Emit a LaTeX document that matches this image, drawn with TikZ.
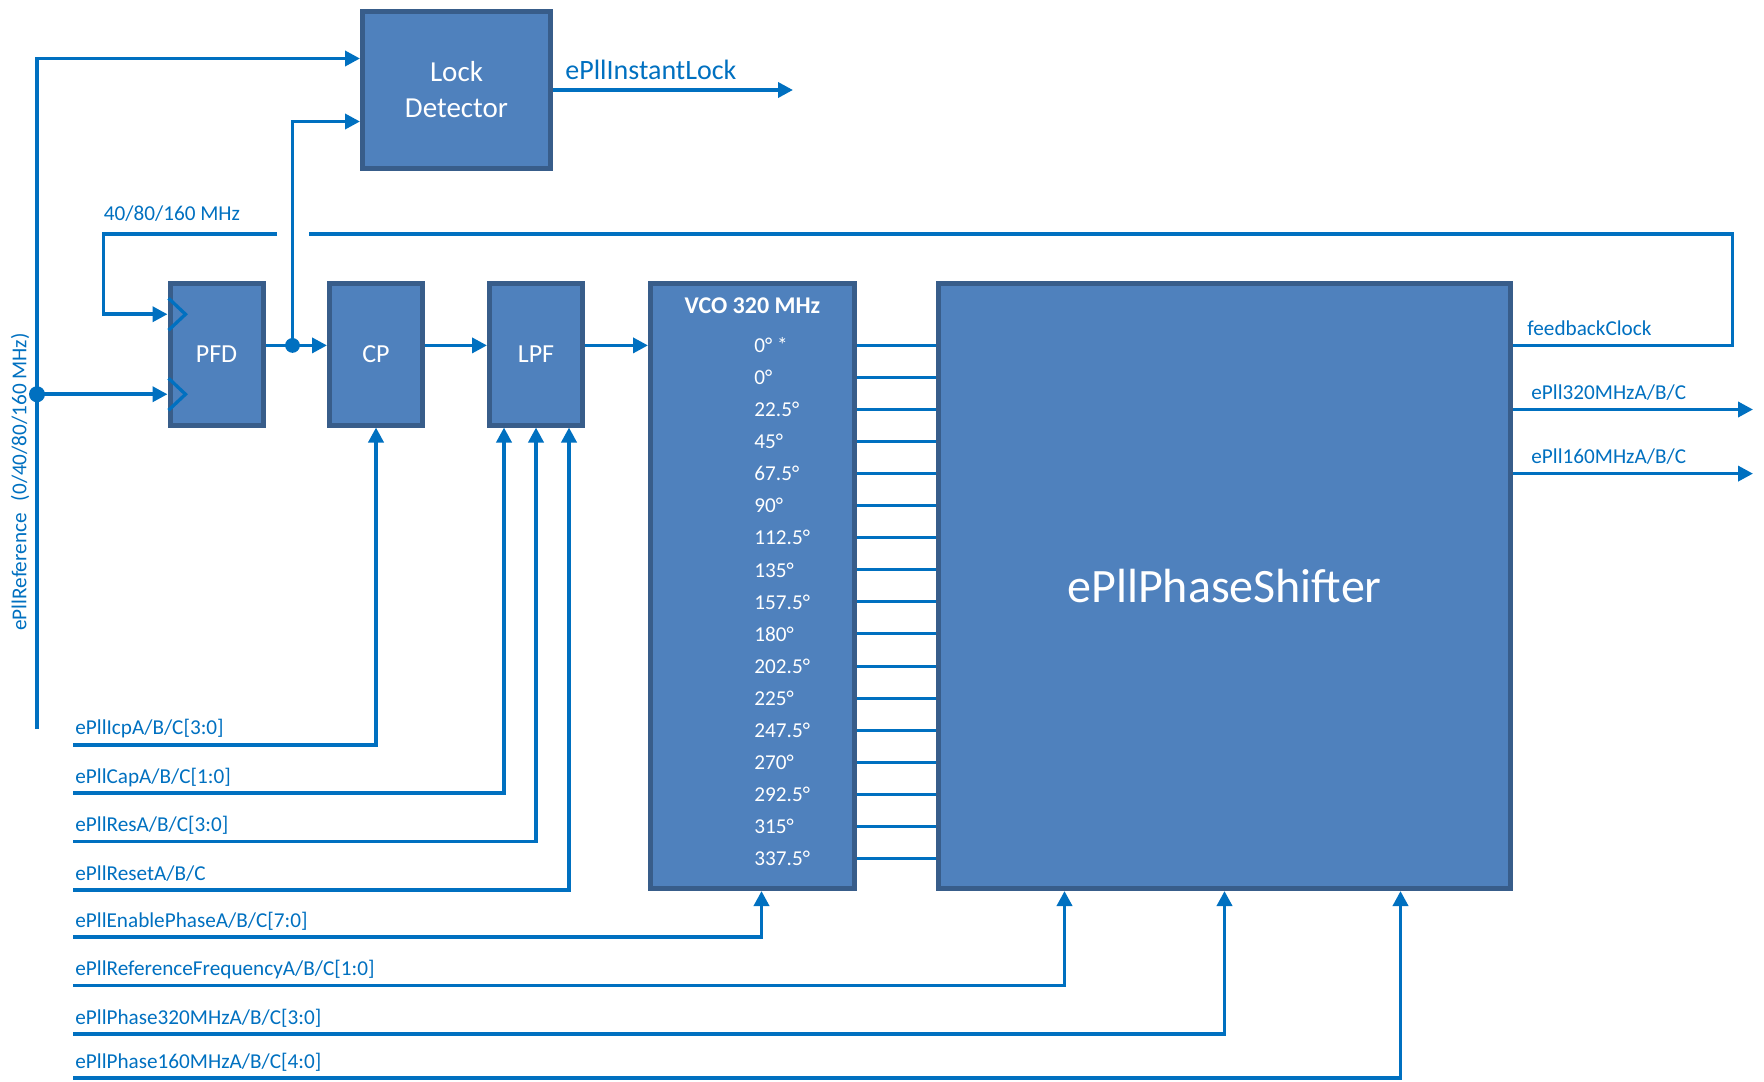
\documentclass[tikz,border=0pt]{standalone}
\usepackage{fontspec}
\setmainfont{Carlito}
\usepackage{tikz}
\usetikzlibrary{positioning}
\usetikzlibrary{calc}
\usetikzlibrary{arrows.meta}

\definecolor{wireblue}{HTML}{0070C0}
\definecolor{blockfill}{HTML}{4F81BD}
\definecolor{blockedge}{HTML}{385D8A}

\tikzset{
    block/.style={rectangle, fill=blockfill, draw=blockedge, line width=2.5pt,
        text=white, font=\fontsize{13}{15}\selectfont},
    smallblock/.style={block, minimum width=46.5pt, minimum height=70.75pt},
    bigblock/.style={block, minimum height=302.5pt},
    wire/.style={draw=wireblue, line width=1.8pt},
    sigarrow/.style={wire, -{Triangle[length=7.5pt,width=7.5pt]}},
    siglabel/.style={text=wireblue, inner sep=0pt, font=\fontsize{10.6}{12}\selectfont},
    phase/.style={text=white, inner sep=0pt, anchor=west, font=\fontsize{10.6}{12}\selectfont}
}

\begin{document}
\begin{tikzpicture}[x=0.5pt, y=-0.5pt]
    \useasboundingbox (0,0) rectangle (1764,1081);

    % pll chain
    \node[smallblock] (pfd) at (216.5,354.25) {PFD};
    \node[smallblock, right=30.75pt of pfd] (cp) {CP};
    \node[smallblock, right=31pt of cp] (lpf) {LPF};
    \node[bigblock, minimum width=102pt, right=31.5pt of lpf.north east, anchor=north west] (vco) {};
    \node[bigblock, minimum width=286pt, right=39.5pt of vco.north east, anchor=north west,
        font=\fontsize{24}{28}\selectfont] (ps) {ePllPhaseShifter};
    \node[block, minimum width=94pt, minimum height=78.5pt, align=center,
        font=\fontsize{14.5}{18}\selectfont] (ld) at (456.5,90) {Lock\\Detector};

    \node[text=white, font=\bfseries\fontsize{12}{14}\selectfont] (vcotitle) at ($(vco.north)+(0,25)$) {VCO 320 MHz};

    % vco phases
    \foreach \ph [count=\i from 0] in {0° *, 0°, 22.5°, 45°, 67.5°, 90°, 112.5°, 135°, 157.5°,
            180°, 202.5°, 225°, 247.5°, 270°, 292.5°, 315°, 337.5°}
        \node[phase] (p\i) at (754, 345.4+32.06*\i) {\ph};
    \foreach \i in {0,...,16}
        \draw[wire, line width=1.5pt] (p\i -| vco.east) -- (p\i -| ps.west);

    % clock inputs of the pfd
    \foreach \yy in {-40,40}
        \draw[wire, line width=1.65pt] ($(pfd.west)+(1,\yy-16)$) -- ++(17,16) -- ++(-17,16);

    \coordinate (tap) at (292.5,345.4);
    \draw[sigarrow] (pfd.east |- p0) -- (cp.west |- p0);
    \draw[sigarrow] (cp.east |- p0) -- (lpf.west |- p0);
    \draw[sigarrow] (lpf.east |- p0) -- (vco.west |- p0);
    \draw[sigarrow] (tap) |- ($(ld.west)+(0,31.5)$);
    \fill[wireblue] (tap) circle[radius=3.7pt];

    % reference clock
    \coordinate (refbot) at (37,729);
    \coordinate (refsplit) at (37,394.25);
    \draw[sigarrow] (refbot) |- ($(ld.west)+(0,-31.5)$);
    \draw[sigarrow] (refsplit) -- (refsplit -| pfd.west);
    \fill[wireblue] (refsplit) circle[radius=4pt];
    \node[siglabel, rotate=90] (reflbl) at (20,482) {ePllReference\hspace{6pt}(0/40/80/160 MHz)};

    % feedback loop, with a gap where it crosses the lock line
    \coordinate (fbcorner) at (1732.5,234);
    \coordinate (fbgapR) at (309,234);
    \coordinate (fbgapL) at (277,234);
    \coordinate (fbleft) at (103.5,234);
    \draw[wire] (ps.east |- p0) -| (fbcorner) -- (fbgapR);
    \draw[sigarrow] (fbgapL) -- (fbleft) |- ($(pfd.west)+(0,-40)$);
    \node[siglabel, anchor=west] (fblbl) at (103.5,214) {40/80/160 MHz};
    \node[siglabel, anchor=west] (fbclk) at (1527,328.5) {feedbackClock};

    % outputs
    \coordinate (lockout) at (793,90);
    \draw[sigarrow] (ld.east) -- (lockout);
    \node[siglabel, anchor=west, font=\fontsize{14}{16}\selectfont] (locklbl) at (565,70) {ePllInstantLock};

    \coordinate (out320) at (1753,409.5);
    \coordinate (out160) at (1753,473.6);
    \draw[sigarrow] (ps.east |- out320) -- (out320);
    \draw[sigarrow] (ps.east |- out160) -- (out160);
    \node[siglabel, anchor=west] (lbl320) at (1531,392.6) {ePll320MHzA/B/C};
    \node[siglabel, anchor=west] (lbl160) at (1531,456.75) {ePll160MHzA/B/C};

    % control inputs
    \foreach \n/\y/\tgt/\dx/\txt in {
            1/744.75/cp/0/{ePllIcpA/B/C[3:0]},
            2/793/lpf/-32/{ePllCapA/B/C[1:0]},
            3/841.5/lpf/0/{ePllResA/B/C[3:0]},
            4/890/lpf/33/{ePllResetA/B/C},
            5/937/vco/9/{ePllEnablePhaseA/B/C[7:0]},
            6/985.5/ps/-160/{ePllReferenceFrequencyA/B/C[1:0]},
            7/1034/ps/0/{ePllPhase320MHzA/B/C[3:0]},
            8/1078/ps/176/{ePllPhase160MHzA/B/C[4:0]}} {
        \coordinate (in\n) at (73,\y);
        \node[siglabel, anchor=base west] (lbl\n) at ($(in\n)+(2,-10)$) {\txt};
        \draw[sigarrow] (in\n) -| ($(\tgt.south)+(\dx,0)$);
    }
\end{tikzpicture}
\end{document}
